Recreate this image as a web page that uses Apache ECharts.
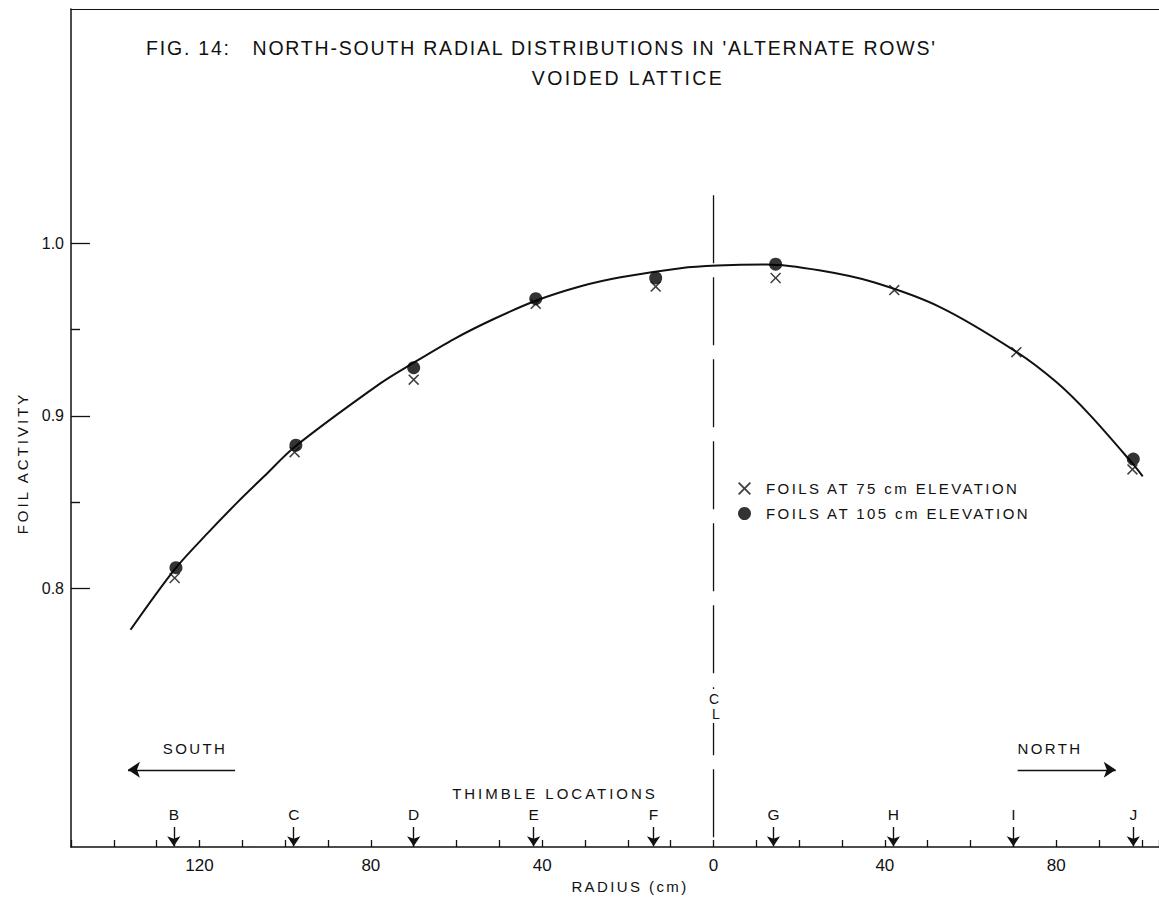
<!DOCTYPE html>
<html>
<head>
<meta charset="utf-8">
<script src="https://cdn.jsdelivr.net/npm/echarts@6.0.0/dist/echarts.min.js"></script>
<style>
  html, body { margin: 0; padding: 0; background: #fff; }
  #chart { width: 1159px; height: 898px; }
</style>
</head>
<body>
<div id="chart"></div>
<script>
// ---- data (radius in cm: south negative, north positive) ----
const xTickLabels = [-120, -80, -40, 0, 40, 80];
const yTickLabels = [0.8, 0.9, 1.0];
const yMinorTicks = [0.85, 0.95];

const foils75 = [
  [-125.8, 0.806], [-97.8, 0.879], [-70.0, 0.921], [-41.5, 0.965], [-13.5, 0.975],
  [14.5, 0.980], [42.2, 0.973], [70.7, 0.937], [97.8, 0.869]
];
const foils105 = [
  [-125.5, 0.812], [-97.5, 0.883], [-70.0, 0.928], [-41.5, 0.968], [-13.5, 0.980],
  [14.5, 0.988], [98.0, 0.875]
];
const fittedCurve = [
  [-136.1, 0.776], [-125.8, 0.811], [-118.1, 0.832], [-111.1, 0.850], [-104.9, 0.865],
  [-97.8, 0.882], [-77.7, 0.919], [-69.9, 0.931], [-60.6, 0.9446], [-51.3, 0.9562],
  [-41.5, 0.9668], [-31.0, 0.9752], [-21.7, 0.9804], [-7.7, 0.9857], [0.9, 0.9872],
  [12.5, 0.9878], [25.0, 0.9843], [37.4, 0.9775], [53.0, 0.9630], [70.7, 0.9372],
  [80.1, 0.9195], [87.9, 0.9005], [97.8, 0.8725], [100.2, 0.865]
];
const thimbleNames = ['B', 'C', 'D', 'E', 'F', 'G', 'H', 'I', 'J'];
const thimbleRadius = [-126, -98, -70, -42, -14, 14, 42, 70, 98];
const centerLine = [[0, 1.028], [0, 0.65]];

const FONT = '"Liberation Sans", Arial, sans-serif';
const INK = '#111';

const crossPath = 'path://M0,1 L1,0 L5,4 L9,0 L10,1 L6,5 L10,9 L9,10 L5,6 L1,10 L0,9 L4,5 Z';
const name75 = 'FOILS AT 75 cm ELEVATION';
const name105 = 'FOILS AT 105 cm ELEVATION';

const thimbleArrows = thimbleNames.map((n, i) => ({
  name: n,
  coords: [[thimbleRadius[i], 0.6616], [thimbleRadius[i], 0.6505]]
}));

const chart = echarts.init(document.getElementById('chart'), null, { renderer: 'svg' });
chart.setOption({
  animation: false,
  backgroundColor: '#fff',
  textStyle: { fontFamily: FONT, color: INK },
  grid: { left: 71, right: 0, top: 9, bottom: 51, containLabel: false },
  xAxis: [{
    type: 'value', min: -150, max: 104, interval: 10,
    axisLine: { show: true, onZero: false, lineStyle: { color: INK, width: 1.5 } },
    axisTick: { show: true, inside: true, length: 7, lineStyle: { color: INK, width: 1.3 } },
    axisLabel: {
      customValues: xTickLabels, margin: 10, fontSize: 17, color: INK, fontFamily: FONT,
      formatter: v => String(Math.abs(v))
    },
    splitLine: { show: false }
  }, {
    type: 'value', position: 'top', min: -150, max: 104,
    axisLine: { show: true, onZero: false, lineStyle: { color: INK, width: 1.2 } },
    axisTick: { show: false }, axisLabel: { show: false }, splitLine: { show: false }
  }],
  yAxis: [{
    type: 'value', min: 0.65, max: 1.136, position: 'left',
    axisLine: { show: true, onZero: false, lineStyle: { color: INK, width: 1.5 } },
    axisTick: { show: true, inside: true, length: 19, customValues: yTickLabels, lineStyle: { color: INK, width: 1.3 } },
    axisLabel: { customValues: yTickLabels, margin: 7, fontSize: 16, color: INK, fontFamily: FONT,
      formatter: v => v.toFixed(1) },
    splitLine: { show: false }
  }, {
    type: 'value', min: 0.65, max: 1.136, position: 'left', offset: 0,
    axisLine: { show: false, onZero: false },
    axisTick: { show: true, inside: true, length: 9, customValues: yMinorTicks, lineStyle: { color: INK, width: 1.4 } },
    axisLabel: { show: false }, splitLine: { show: false }
  }],
  legend: {
    orient: 'vertical', left: 733, top: 476, itemGap: 10,
    itemWidth: 13, itemHeight: 13,
    textStyle: { fontSize: 15, color: INK, fontFamily: FONT, padding: [0, 0, 0, 10] },
    data: [{ name: name75, icon: crossPath }, { name: name105, icon: 'circle' }]
  },
  series: [
    {
      name: 'curve', type: 'line', data: fittedCurve, smooth: 0.3, showSymbol: false,
      lineStyle: { color: INK, width: 2 }, silent: true, z: 2
    },
    {
      name: 'centre line', type: 'line', data: centerLine, showSymbol: false,
      lineStyle: { color: INK, width: 1.3, type: [68, 14] }, silent: true, z: 1
    },
    {
      name: name75, type: 'scatter', data: foils75, symbol: crossPath, symbolSize: 11,
      itemStyle: { color: INK }, z: 4
    },
    {
      name: name105, type: 'scatter', data: foils105, symbol: 'circle', symbolSize: 13,
      itemStyle: { color: '#000' }, z: 3
    },
    {
      name: 'thimbles', type: 'lines', coordinateSystem: 'cartesian2d', data: thimbleArrows,
      symbol: ['none', 'arrow'], symbolSize: [7, 10],
      lineStyle: { color: INK, width: 1.4, opacity: 1 },
      label: { show: true, position: 'start', distance: 4, fontSize: 15.5, color: INK, fontFamily: FONT,
        formatter: p => p.name },
      silent: true, z: 5
    },
    {
      name: 'directions', type: 'lines', coordinateSystem: 'cartesian2d',
      data: [
        { name: 'SOUTH', coords: [[-111.7, 0.6948], [-136.7, 0.6948]] },
        { name: 'NORTH', coords: [[71.0, 0.6948], [93.9, 0.6948]] }
      ],
      symbol: ['none', 'arrow'], symbolSize: [7, 12],
      lineStyle: { color: INK, width: 1.4, opacity: 1 },
      silent: true, z: 5
    }
  ],
  graphic: [
    { type: 'text', left: 146, top: 38, style: { text: "FIG. 14:   NORTH-SOUTH RADIAL DISTRIBUTIONS IN 'ALTERNATE ROWS'", font: '19.5px ' + FONT, fill: INK } },
    { type: 'text', x: 628, y: 78, style: { text: 'VOIDED LATTICE', font: '19.5px ' + FONT, fill: INK, align: 'center', verticalAlign: 'middle' } },
    { type: 'text', x: 195, y: 748, style: { text: 'SOUTH', font: '15px ' + FONT, fill: INK, align: 'center', verticalAlign: 'middle' } },
    { type: 'text', x: 1050, y: 748, style: { text: 'NORTH', font: '15px ' + FONT, fill: INK, align: 'center', verticalAlign: 'middle' } },
    { type: 'text', x: 555, y: 793, style: { text: 'THIMBLE LOCATIONS', font: '15px ' + FONT, fill: INK, align: 'center', verticalAlign: 'middle' } },
    { type: 'text', x: 714, y: 706, z: 10, style: {
        text: '{c|C}\n{l|L}', fill: INK, align: 'center', verticalAlign: 'middle',
        backgroundColor: '#fff', padding: [2, 1],
        rich: {
          c: { font: '14px ' + FONT, fill: INK, lineHeight: 15 },
          l: { font: '14px ' + FONT, fill: INK, lineHeight: 15, padding: [0, 0, 0, 4] }
        }
    } },
    { type: 'text', x: 22, y: 463, rotation: Math.PI / 2, style: { text: 'FOIL ACTIVITY', font: '15px ' + FONT, fill: INK, align: 'center', verticalAlign: 'middle' } },
    { type: 'text', x: 630, y: 886, style: { text: 'RADIUS (cm)', font: '15px ' + FONT, fill: INK, align: 'center', verticalAlign: 'middle' } }
  ]
});

// lettering in the original is widely spaced: add letter spacing to worded labels
function spaceLetters() {
  document.querySelectorAll('#chart svg text').forEach(t => {
    const s = t.textContent || '';
    if (/[A-Z]{2}/.test(s)) {
      t.style.letterSpacing = s.length > 40 ? '1.8px' : (s === 'THIMBLE LOCATIONS' || s === 'FOIL ACTIVITY' ? '3px' : '2.4px');
    }
  });
}
chart.on('finished', spaceLetters);
spaceLetters();
</script>
</body>
</html>
